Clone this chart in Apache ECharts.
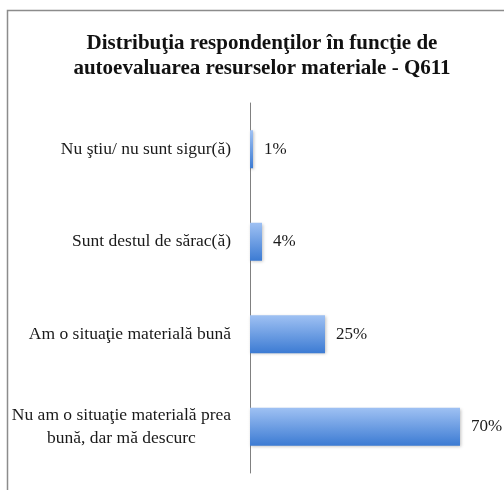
<!DOCTYPE html>
<html>
<head>
<meta charset="utf-8">
<script src="https://cdn.jsdelivr.net/npm/echarts@6/dist/echarts.min.js"></script>
<style>
html, body { margin: 0; padding: 0; background: #fff; }
#chart { width: 504px; height: 490px; }
</style>
</head>
<body>
<div id="chart"></div>
<script>
var titleText = "Distribuţia respondenţilor în funcţie de\nautoevaluarea resurselor materiale - Q611";
// categories top to bottom
var categories = [
    "Nu ştiu/ nu sunt sigur(ă)",
    "Sunt destul de sărac(ă)",
    "Am o situaţie materială bună",
    "Nu am o situaţie materială prea\nbună, dar mă descurc"
];
var values = [1, 4, 25, 70];

var serif = "'Liberation Serif', 'DejaVu Serif', serif";

var myChart = echarts.init(document.getElementById("chart"));
var option = {
    backgroundColor: '#fff',
    animation: false,
    graphic: [{
        type: 'rect',
        shape: { x: 7.5, y: 10.5, width: 600, height: 600 },
        style: { fill: 'none', stroke: '#8c8c8c', lineWidth: 1.5 }
    }],
    title: {
        text: titleText,
        left: 257,
        textAlign: 'center',
        top: 26,
        textStyle: {
            fontFamily: serif,
            fontWeight: 'bold',
            fontSize: 21,
            lineHeight: 25,
            color: '#111'
        }
    },
    grid: {
        left: 250,
        right: 14,
        top: 103,
        bottom: 17,
        containLabel: false
    },
    xAxis: {
        type: 'value',
        min: 0,
        max: 80,
        show: false
    },
    yAxis: {
        type: 'category',
        inverse: true,
        data: categories,
        axisLine: { show: true, lineStyle: { color: '#808080', width: 1 } },
        axisTick: { show: false },
        axisLabel: {
            margin: 19,
            formatter: function (v) { return '{a|' + v.split('\n').join('}\n{a|') + '}'; },
            rich: {
                a: {
                    align: 'center',
                    fontFamily: serif,
                    fontSize: 17.5,
                    lineHeight: 23,
                    color: '#1a1a1a'
                }
            }
        }
    },
    series: [{
        type: 'bar',
        data: values,
        barWidth: 38,
        itemStyle: {
            color: new echarts.graphic.LinearGradient(0, 0, 0, 1, [
                { offset: 0, color: '#9fc1f3' },
                { offset: 1, color: '#3c7bd3' }
            ]),
            shadowColor: 'rgba(0,0,0,0.25)',
            shadowBlur: 3,
            shadowOffsetX: 1,
            shadowOffsetY: 1
        },
        label: {
            show: true,
            position: 'right',
            distance: 11,
            formatter: '{c}%',
            fontFamily: serif,
            fontSize: 17,
            color: '#1a1a1a'
        }
    }]
};
myChart.setOption(option);
</script>
</body>
</html>
